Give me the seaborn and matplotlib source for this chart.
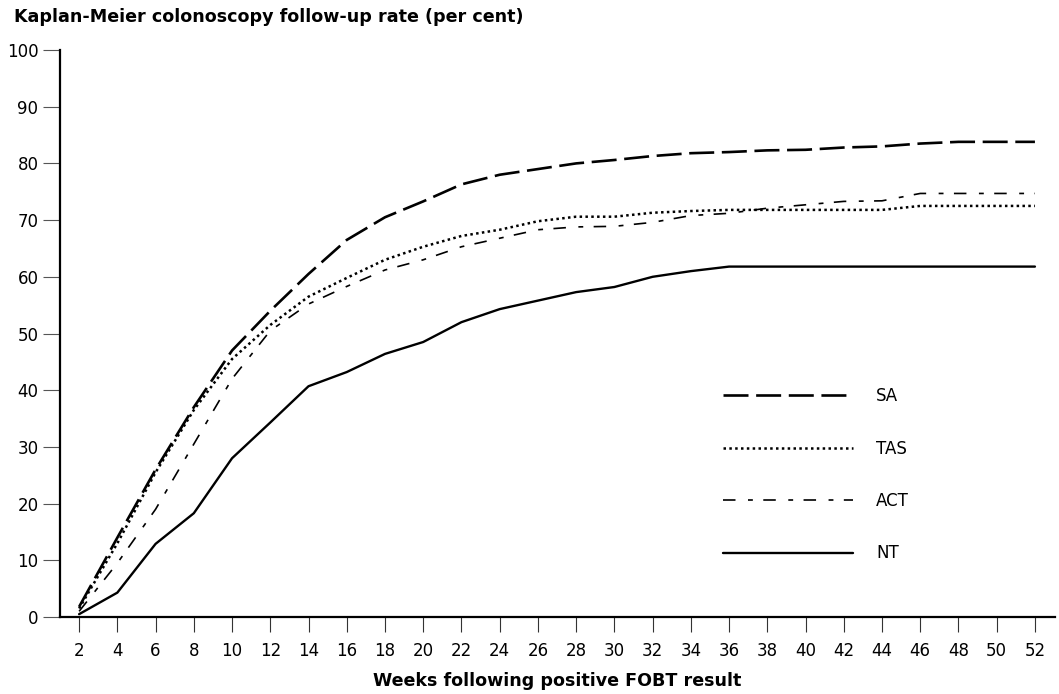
import matplotlib
matplotlib.use("Agg")
import matplotlib.pyplot as plt
import seaborn as sns
import pandas as pd

# Kaplan-Meier follow-up rates
weeks = list(range(2, 53, 2))
sa = [1.8, 14.0, 26.0, 37.0, 47.0, 54.0, 60.5, 66.5, 70.5, 73.3, 76.3, 78.0, 79.0,
      80.0, 80.6, 81.3, 81.8, 82.0, 82.3, 82.4, 82.8, 83.0, 83.5, 83.8, 83.8, 83.8]
tas = [1.5, 13.0, 25.5, 36.5, 45.5, 51.5, 56.5, 59.8, 63.0, 65.3, 67.2, 68.3, 69.8,
       70.6, 70.6, 71.3, 71.6, 71.8, 71.8, 71.8, 71.8, 71.8, 72.5, 72.5, 72.5, 72.5]
act = [1.0, 9.5, 19.0, 30.5, 42.0, 50.5, 55.2, 58.3, 61.2, 63.0, 65.3, 66.8, 68.3,
       68.8, 68.9, 69.6, 70.8, 71.2, 72.1, 72.7, 73.3, 73.4, 74.7, 74.7, 74.7, 74.7]
nt = [0.5, 4.3, 12.9, 18.3, 28.0, 34.3, 40.7, 43.2, 46.4, 48.5, 52.0, 54.3, 55.8,
      57.3, 58.2, 60.0, 61.0, 61.8, 61.8, 61.8, 61.8, 61.8, 61.8, 61.8, 61.8, 61.8]
groups = ["SA", "TAS", "ACT", "NT"]
y_ticks = list(range(0, 101, 10))

sns.set_theme(style="ticks")
plt.rcParams["font.family"] = ["DejaVu Sans"]
plt.rcParams["text.color"] = "black"
plt.rcParams["lines.scale_dashes"] = False
fs = 12
fs_bold = 12.6

df = pd.DataFrame({"week": weeks, "SA": sa, "TAS": tas, "ACT": act, "NT": nt})
long_df = df.melt(id_vars="week", var_name="group", value_name="rate")

styles = {
    "SA": dict(lw=1.9, dashes=(18, 5.5)),
    "TAS": dict(lw=1.8, dashes=(1.8, 2.4)),
    "ACT": dict(lw=1.2, dashes=(9, 9, 3.5, 7.5)),
    "NT": dict(lw=1.7, dashes=None),
}

fig = plt.figure(figsize=(10.59, 6.94), dpi=100)
ax = fig.add_axes([60 / 1059, 1 - 617 / 694, (1055 - 60) / 1059, (617 - 50) / 694])

for g in groups:
    sub = long_df[long_df["group"] == g]
    sns.lineplot(data=sub, x="week", y="rate", ax=ax, color="black",
                 lw=styles[g]["lw"], label=g)
    line = ax.lines[-1]
    if styles[g]["dashes"] is not None:
        line.set_dashes(styles[g]["dashes"])

ax.set_xlim(1, 53.05)
ax.set_ylim(0, 100)
ax.set_xticks(weeks)
ax.set_yticks(y_ticks)
ax.tick_params(axis="x", length=11, width=0.8, color="#333333", pad=7,
               labelsize=fs, labelcolor="black")
ax.tick_params(axis="y", length=12, width=0.8, color="#555555", pad=3.5,
               labelsize=fs, labelcolor="black")
for side in ["top", "right"]:
    ax.spines[side].set_visible(False)
for side in ["left", "bottom"]:
    ax.spines[side].set_linewidth(1.6)
    ax.spines[side].set_color("black")
ax.set_xlabel("")
ax.set_ylabel("")

leg = ax.legend(loc="upper left", bbox_to_anchor=(723 / 1059, 1 - 387 / 694),
                bbox_transform=fig.transFigure, frameon=False, fontsize=fs,
                handlelength=7.8, handletextpad=1.4, labelspacing=2.07,
                borderpad=0, borderaxespad=0)
for t in leg.get_texts():
    t.set_color("black")

fig.text(14 / 1059, 1 - 17 / 694, "Kaplan-Meier colonoscopy follow-up rate (per cent)",
         fontsize=fs_bold, fontweight="bold", va="center", ha="left", color="black")
fig.text(557 / 1059, 1 - 681 / 694, "Weeks following positive FOBT result",
         fontsize=fs_bold, fontweight="bold", va="center", ha="center", color="black")

fig.savefig("out.png", dpi=100)
